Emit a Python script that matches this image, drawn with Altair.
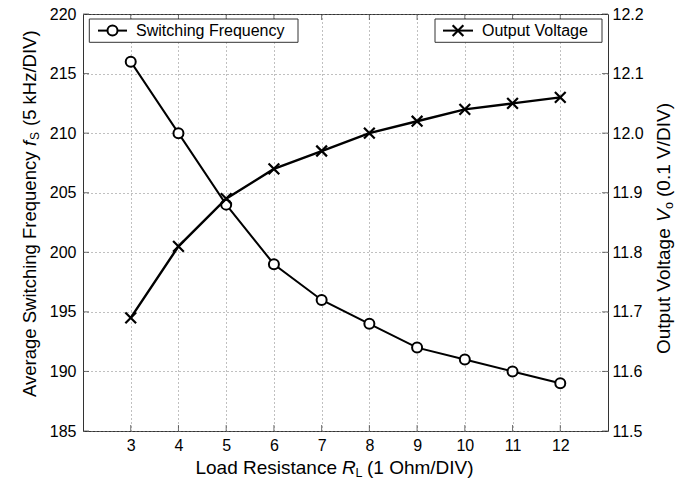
import altair as alt
import pandas as pd

# ---- data ----
R_load = [3, 4, 5, 6, 7, 8, 9, 10, 11, 12]
f_sw = [216, 210, 204, 199, 196, 194, 192, 191, 190, 189]
v_out = [11.69, 11.81, 11.89, 11.94, 11.97, 12.00, 12.02, 12.04, 12.05, 12.06]
x_ticks = [3, 4, 5, 6, 7, 8, 9, 10, 11, 12]
f_ticks = [185, 190, 195, 200, 205, 210, 215, 220]
v_ticks = [11.5, 11.6, 11.7, 11.8, 11.9, 12.0, 12.1, 12.2]

FONT = "Liberation Sans"
W, H = 525, 417
TFS = 19     # axis title font size
LTFS = 18.5  # left title font size
SFS = 12.5   # subscript font size
LFS = 16     # tick label font size
FRAME = "#333333"
GRID = "#808080"

df = pd.DataFrame({"R": R_load, "f": f_sw, "V": v_out})
one = pd.DataFrame({"k": [0]})

x_enc = alt.X(
    "R:Q",
    scale=alt.Scale(domain=[2, 13], nice=False, zero=False),
    axis=alt.Axis(values=x_ticks, title=None, grid=True, ticks=False, domain=False,
                  labelPadding=6, labelFontSize=LFS, labelFont=FONT, labelColor="black",
                  gridDash=[1, 3], gridColor=GRID, gridWidth=1),
)
yf_enc = alt.Y(
    "f:Q",
    scale=alt.Scale(domain=[185, 220], nice=False, zero=False),
    axis=alt.Axis(values=f_ticks, orient="left", title=None, grid=True, ticks=False,
                  domain=False, labelPadding=7, labelFontSize=LFS, labelFont=FONT,
                  labelColor="black", gridDash=[1, 3], gridColor=GRID, gridWidth=1),
)
yv_enc = alt.Y(
    "V:Q",
    scale=alt.Scale(domain=[11.5, 12.2], nice=False, zero=False),
    axis=alt.Axis(values=v_ticks, orient="right", title=None, grid=False, ticks=False,
                  domain=False, format=".1f", labelPadding=4, labelFontSize=LFS,
                  labelFont=FONT, labelColor="black"),
)

base = alt.Chart(df)

f_line = base.mark_line(color="black", strokeWidth=2).encode(x=x_enc, y=yf_enc)
f_pts = base.mark_point(shape="circle", size=100, filled=True, fill="white",
                        stroke="black", strokeWidth=2, opacity=1).encode(x=x_enc, y=yf_enc)

CROSS = "M-1,-1L1,1M-1,1L1,-1"
v_line = base.mark_line(color="black", strokeWidth=2.4).encode(x=x_enc, y=yv_enc)
v_pts = base.mark_point(shape=CROSS, size=115, filled=False, stroke="black",
                        strokeWidth=2.2, opacity=1).encode(x=x_enc, y=yv_enc)

# inward ticks on all four sides (MATLAB style)
xt = pd.DataFrame({"R": x_ticks})
yt = pd.DataFrame({"f": f_ticks})
tick_b = alt.Chart(xt).mark_tick(orient="vertical", size=6, thickness=1, color=FRAME).encode(
    x=x_enc, y=alt.value(H - 3))
tick_t = alt.Chart(xt).mark_tick(orient="vertical", size=6, thickness=1, color=FRAME).encode(
    x=x_enc, y=alt.value(3))
tick_l = alt.Chart(yt).mark_tick(orient="horizontal", size=6, thickness=1, color=FRAME).encode(
    y=yf_enc, x=alt.value(3))
tick_r = alt.Chart(yt).mark_tick(orient="horizontal", size=6, thickness=1, color=FRAME).encode(
    y=yf_enc, x=alt.value(W - 3))


def txt(s, x, y, size=TFS, angle=0, align="left", style="normal", base_="middle"):
    return alt.Chart(one).mark_text(
        text=s, font=FONT, fontSize=size, angle=angle, align=align, baseline=base_,
        fontStyle=style, color="black",
    ).encode(x=alt.value(x), y=alt.value(y))


# x-axis title: Load Resistance R_L (1 Ohm/DIV)
XT_Y = 454
x_title = [
    txt("Load Resistance", 254, XT_Y, align="right"),
    txt("R", 259, XT_Y, style="italic"),
    txt("L", 272.5, XT_Y + 5, size=SFS),
    txt("(1 Ohm/DIV)", 284, XT_Y),
]

# left title: Average Switching Frequency f_S (5 kHz/DIV)
LX = -53
l_title = [
    txt("Average Switching Frequency", LX, 383, size=LTFS, angle=270),
    txt("f", LX, 132, size=LTFS, angle=270, style="italic"),
    txt("S", LX + 5, 126, size=12, angle=270),
    txt("(5 kHz/DIV)", LX, 112, size=LTFS, angle=270),
]

# right title: Output Voltage V_o (0.1 V/DIV)
RX = 581
r_title = [
    txt("Output Voltage", RX, 340, angle=270),
    txt("V", RX, 208, angle=270, style="italic"),
    txt("o", RX + 5, 195, size=SFS, angle=270),
    txt("(0.1 V/DIV)", RX, 183, angle=270),
]


# legends
def legend(x0, x1, lx0, lx1, label, marker):
    ym = 16.6
    box = alt.Chart(one).mark_rect(fill="white", stroke=FRAME, strokeWidth=1).encode(
        x=alt.value(x0), x2=alt.value(x1), y=alt.value(5), y2=alt.value(28.3))
    ln = alt.Chart(one).mark_rule(color="black", strokeWidth=2).encode(
        x=alt.value(lx0), x2=alt.value(lx1), y=alt.value(ym))
    if marker == "circle":
        mk = alt.Chart(one).mark_point(shape="circle", size=100, filled=True, fill="white",
                                       stroke="black", strokeWidth=2, opacity=1).encode(
            x=alt.value((lx0 + lx1) / 2), y=alt.value(ym))
    else:
        mk = alt.Chart(one).mark_point(shape=CROSS, size=115, filled=False, stroke="black",
                                       strokeWidth=2.2, opacity=1).encode(
            x=alt.value((lx0 + lx1) / 2), y=alt.value(ym))
    t = txt(label, lx1 + 9, ym + 0.5, size=LFS)
    return [box, ln, mk, t]


leg1 = legend(6.3, 215, 15, 44, "Switching Frequency", "circle")
leg2 = legend(352, 519, 360, 390, "Output Voltage", "cross")

left = alt.layer(f_line, f_pts, tick_b, tick_t, tick_l, tick_r,
                 *x_title, *l_title, *r_title, *leg1, *leg2)
right = alt.layer(v_line, v_pts)

chart = alt.layer(left, right).resolve_scale(y="independent").properties(
    width=W, height=H,
    autosize=alt.AutoSizeParams(type="none"),
    padding={"left": 83, "top": 14, "right": 85, "bottom": 52},
    background="white",
).configure_view(stroke=FRAME, strokeWidth=1)

chart.save("out.html", embed_options={"renderer": "svg", "actions": False})
